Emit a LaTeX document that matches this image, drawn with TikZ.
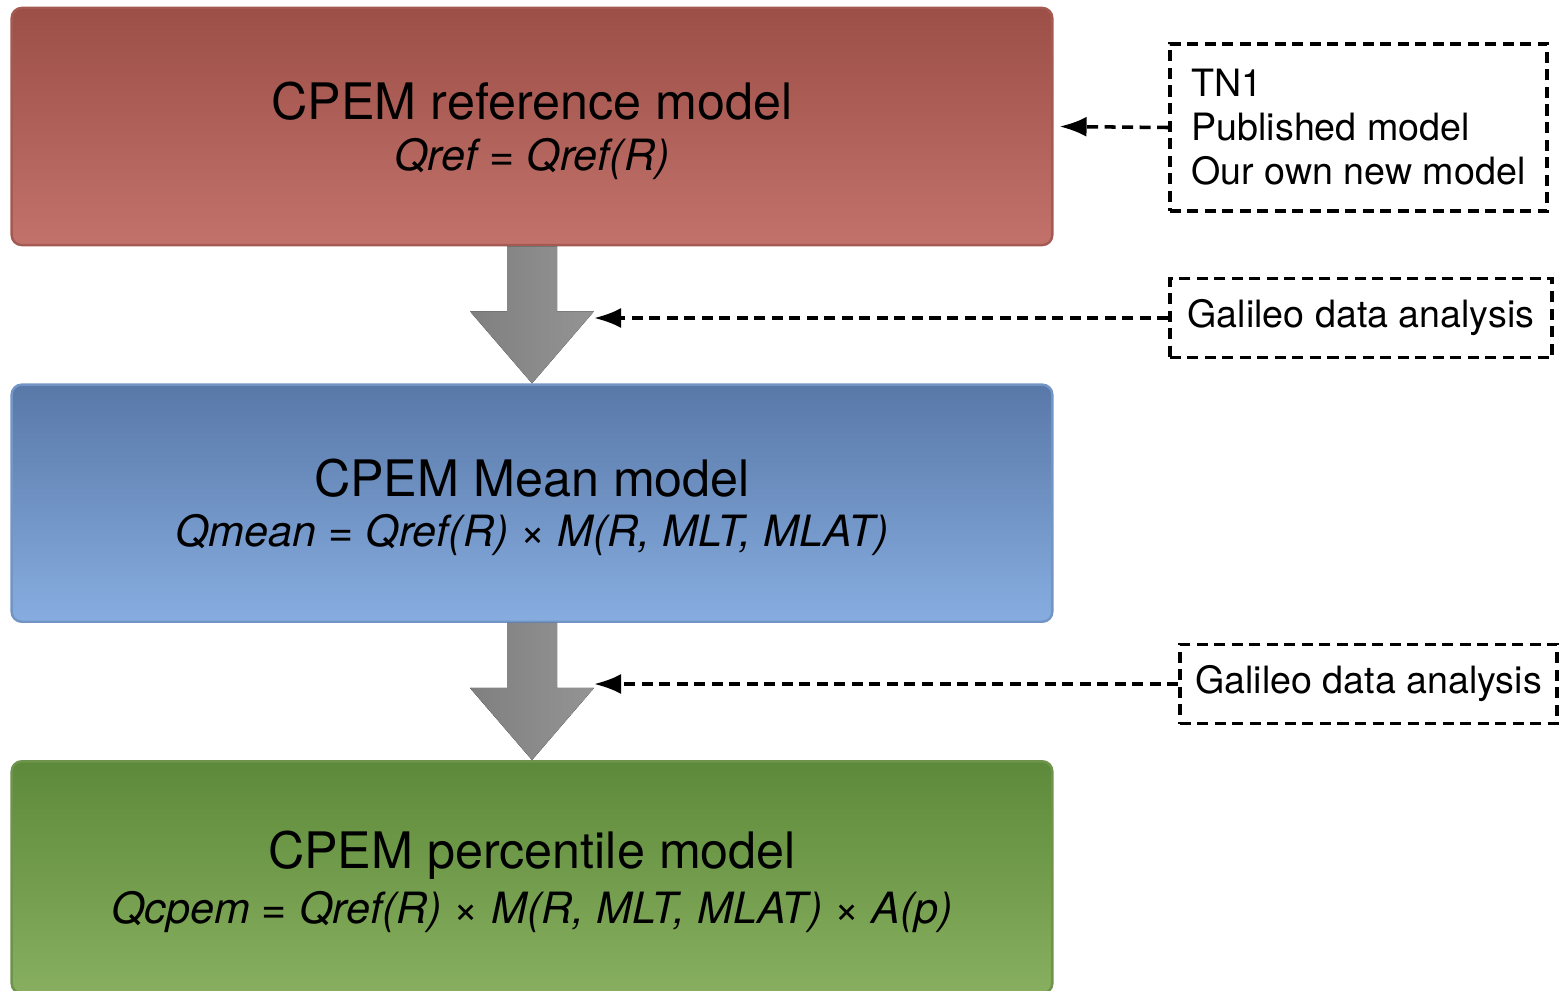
\documentclass[tikz,border=0pt]{standalone}
\usepackage{fontspec}
\setmainfont{TeX Gyre Heros}
\usetikzlibrary{arrows.meta, positioning, calc}

\definecolor{redtop}{HTML}{9C4F47}
\definecolor{redbot}{HTML}{C2726B}
\definecolor{redline}{HTML}{A45A53}
\definecolor{bluetop}{HTML}{5878A8}
\definecolor{bluebot}{HTML}{87ADE0}
\definecolor{blueline}{HTML}{7295C6}
\definecolor{greentop}{HTML}{5D8A3A}
\definecolor{greenbot}{HTML}{87AF5F}
\definecolor{greenline}{HTML}{6E944C}

\begin{document}
\begin{tikzpicture}[x=0.01cm, y=-0.01cm, >={Latex[length=0.27cm, width=0.2cm]}]

	% Define styles
	\tikzstyle{model} = [rectangle, rounded corners=0.1cm, line width=0.7pt, align=center, minimum width=10.4cm, minimum height=2.37cm, inner sep=0pt]
	\tikzstyle{note} = [rectangle, draw, line width=1pt, dash pattern=on 0.11cm off 0.065cm, align=left, inner sep=0pt, font=\fontsize{10.7}{12.5}\selectfont]
	\tikzstyle{flow} = [left color=black!50, right color=black!42, draw=none]
	\tikzstyle{feed} = [->, line width=1pt, dash pattern=on 0.11cm off 0.065cm]

	\useasboundingbox (0,0) rectangle (1560,990);

	% Model boxes
	\node[model, draw=redline, top color=redtop, bottom color=redbot] (ref) at (532,126.5)
		{\\[0.04cm]{\fontsize{14.3}{16}\selectfont CPEM reference model}\\[0.08cm]
		 {\itshape\fontsize{12.25}{14}\selectfont Qref = Qref(R)}};
	\node[model, draw=blueline, top color=bluetop, bottom color=bluebot, below=1.37cm of ref] (mean)
		{\\[0.04cm]{\fontsize{14.3}{16}\selectfont CPEM Mean model}\\[0.08cm]
		 {\itshape\fontsize{12.25}{14}\selectfont Qmean = Qref(R) × M(R, MLT, MLAT)}};
	\node[model, draw=greenline, top color=greentop, bottom color=greenbot, below=1.37cm of mean, minimum height=2.32cm] (pct)
		{\\[0.04cm]{\fontsize{14.3}{16}\selectfont CPEM percentile model}\\[0.08cm]
		 {\itshape\fontsize{12.25}{14}\selectfont Qcpem = Qref(R) × M(R, MLT, MLAT) × A(p)}};

	% Grey block arrows
	\fill[flow] ($(ref.south)+(-25,0)$) -- ($(ref.south)+(-25,65)$) -- ($(ref.south)+(-62,65)$)
		-- (mean.north) -- ($(ref.south)+(62,65)$) -- ($(ref.south)+(25,65)$) -- ($(ref.south)+(25,0)$) -- cycle;
	\coordinate (head1) at ($(ref.south)+(62,65)$);
	\fill[flow] ($(mean.south)+(-25,0)$) -- ($(mean.south)+(-25,65)$) -- ($(mean.south)+(-62,65)$)
		-- (pct.north) -- ($(mean.south)+(62,65)$) -- ($(mean.south)+(25,65)$) -- ($(mean.south)+(25,0)$) -- cycle;
	\coordinate (head2) at ($(mean.south)+(62,65)$);

	% Sources
	\node[note, minimum width=3.77cm, minimum height=1.67cm] (src) at (1358.5,127.5)
		{TN1\\Published model\\Our own new model};
	\node[note, minimum width=3.82cm, minimum height=0.79cm] (gal1) at (1361,318)
		{Galileo data analysis};
	\node[note, minimum width=3.77cm, minimum height=0.79cm] (gal2) at (1368.5,684)
		{Galileo data analysis};

	% Dashed arrows
	\draw[feed] (src.west) -- ($(ref.east)+(6,0)$);
	\draw[feed] (gal1.west) -- (gal1.west -| head1);
	\draw[feed] (gal2.west) -- (gal2.west -| head2);

\end{tikzpicture}
\end{document}
